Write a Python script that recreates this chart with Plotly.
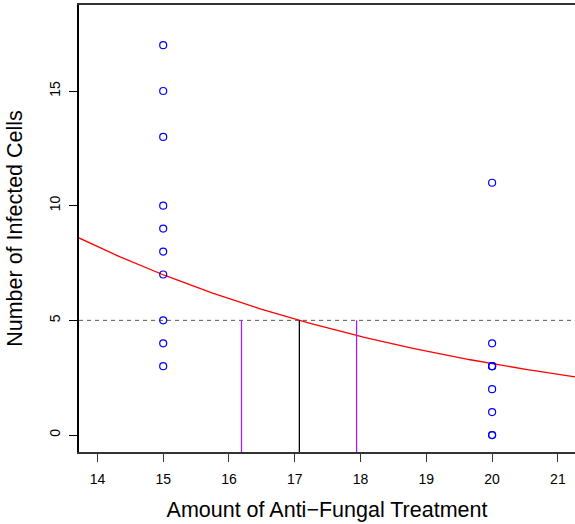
import numpy as np
import plotly.graph_objects as go

# Observed data
treatment_15 = [15] * 10
cells_15 = [17, 15, 13, 10, 9, 8, 7, 5, 4, 3]
treatment_20 = [20] * 9
cells_20 = [11, 4, 3, 3, 3, 2, 1, 0, 0]

# Fitted log-linear model (mu = exp(a + b*x))
fit_intercept = 4.371
fit_slope = -0.1618

# Threshold and estimate with interval
threshold = 5
estimate_x = 17.07
interval_x = [16.19, 17.94]

x_ticks = [14, 15, 16, 17, 18, 19, 20, 21]
y_ticks = [0, 5, 10, 15]

x_range = [13.72, 21.26]
y_range = [-0.74, 18.75]

fig = go.Figure()

# threshold dashed line
fig.add_trace(go.Scatter(x=x_range, y=[threshold, threshold], mode="lines",
                         line=dict(color="#555555", width=1, dash="4px,4px"),
                         hoverinfo="skip"))

# fitted curve
xs = np.linspace(x_range[0], x_range[1], 200)
fig.add_trace(go.Scatter(x=xs, y=np.exp(fit_intercept + fit_slope * xs), mode="lines",
                         line=dict(color="red", width=1.3)))

# interval lines
for xv in interval_x:
    fig.add_trace(go.Scatter(x=[xv, xv], y=[y_range[0], threshold], mode="lines",
                             line=dict(color="#a020f0", width=1.3)))
fig.add_trace(go.Scatter(x=[estimate_x, estimate_x], y=[y_range[0], threshold], mode="lines",
                         line=dict(color="black", width=1.3)))

# points
fig.add_trace(go.Scatter(x=treatment_15 + treatment_20, y=cells_15 + cells_20, mode="markers",
                         marker=dict(symbol="circle-open", size=7, color="blue",
                                     line=dict(width=1.2, color="blue"))))

axis_font = dict(family="Liberation Sans, Arial, sans-serif", size=14, color="black")
title_font = dict(family="Liberation Sans, Arial, sans-serif", size=21.5, color="black")

fig.update_layout(
    width=575, height=524,
    margin=dict(l=79, r=0, t=5, b=72),
    paper_bgcolor="white", plot_bgcolor="white",
    showlegend=False,
    xaxis=dict(range=x_range, tickvals=x_ticks, ticks="outside", ticklen=8, tickwidth=1,
               tickcolor="#333333", showline=True, linecolor="#333333", linewidth=1.5,
               mirror=True, showgrid=False, zeroline=False, tickfont=axis_font,
               ticklabelstandoff=5,
               title=dict(text="Amount of Anti\u2212Fungal Treatment", font=title_font, standoff=16)),
    yaxis=dict(range=y_range, tickvals=y_ticks, ticks="outside", ticklen=8, tickwidth=1,
               tickcolor="black", showline=True, linecolor="black", linewidth=1.5,
               showgrid=False, zeroline=False, tickfont=axis_font, tickangle=-90,
               ticklabelstandoff=4,
               title=dict(text="Number of Infected Cells", font=title_font, standoff=18)),
)

fig.write_html("out.html")
